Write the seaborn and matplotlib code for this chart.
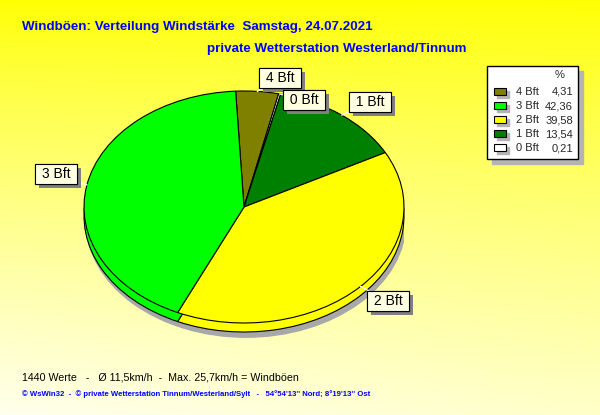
import matplotlib
matplotlib.use("Agg")
import matplotlib.pyplot as plt
import matplotlib.patheffects as pe
from matplotlib.patches import Rectangle, Ellipse
import numpy as np
import seaborn as sns

# data
categories = ["4 Bft", "3 Bft", "2 Bft", "1 Bft", "0 Bft"]
percent = [4.31, 42.36, 39.58, 13.54, 0.21]
colors = ["#808000", "#00ff00", "#ffff00", "#008000", "#ffffff"]
pie_order = ["4 Bft", "0 Bft", "1 Bft", "2 Bft", "3 Bft"]  # clockwise from the top

n_values = 1440
mean_gust = 11.5
max_gust = 25.7

title = "Windböen: Verteilung Windstärke  Samstag, 24.07.2021"
subtitle = "private Wetterstation Westerland/Tinnum"
footer = ("© WsWin32  -  © private Wetterstation Tinnum/Westerland/Sylt   -   "
          "54°54'13'' Nord; 8°19'13'' Ost")


def de(v, fmt="{:.2f}"):
    return fmt.format(v).replace(".", ",")


sns.set_theme(style="white")
plt.rcParams["font.family"] = ["Liberation Sans", "DejaVu Sans"]

W, H = 600, 415
fig = plt.figure(figsize=(6, 4.15), dpi=100)

# background gradient (yellow at top, pale at bottom)
bg = fig.add_axes([0, 0, 1, 1])
yy, xx = np.mgrid[0:H, 0:W]
t = yy / H
s = xx / W
blue = np.clip(t ** 0.8 * (0.85 + 0.15 * (1 - s)), 0, 1) * 0.93
img = np.dstack([np.ones_like(blue), np.ones_like(blue), blue])
bg.imshow(img, extent=(0, W, H, 0), aspect="auto", zorder=0)
bg.set_xlim(0, W)
bg.set_ylim(H, 0)
bg.axis("off")

# pie axes: elliptical pie with a small rim
left, top, rx, ry, depth = 84, 91, 160, 116, 9
ylo = -1 - (depth + 18) / ry
hpx = ry * (1 - ylo)
pax = fig.add_axes([left / W, (H - (top + hpx)) / H, 2 * rx / W, hpx / H])
pax.patch.set_visible(False)

vals = [percent[categories.index(c)] for c in pie_order]
cols = [colors[categories.index(c)] for c in pie_order]
dz = depth / ry
wp = dict(edgecolor="black", linewidth=0.8)

pax.add_patch(Ellipse((0.012, -dz - 0.045), 2, 2, color="#a8a8a8", zorder=0))
pax.pie(vals, colors=cols, startangle=93, counterclock=False,
        center=(0, -dz), radius=1, wedgeprops=wp, frame=False)
wedges, _ = pax.pie(vals, colors=cols, startangle=93, counterclock=False,
                    center=(0, 0), radius=1, wedgeprops=wp, frame=False)
pax.set_aspect("auto")
pax.set_xlim(-1, 1)
pax.set_ylim(ylo, 1)
pax.axis("off")

# label boxes (pixel centres) and optional anchor angle override
label_pos = {"4 Bft": (280, 78), "0 Bft": (304, 100), "1 Bft": (370, 102),
             "3 Bft": (56, 174), "2 Bft": (388, 301)}
anchor_angle = {"3 Bft": 169}

for w, cat in zip(wedges, pie_order):
    ang = anchor_angle.get(cat, (w.theta1 + w.theta2) / 2)
    a = np.deg2rad(ang)
    ann = pax.annotate(
        f" {cat} ", xy=(np.cos(a), np.sin(a)), xycoords="data",
        xytext=label_pos[cat], textcoords=bg.transData,
        ha="center", va="center", fontsize=10, color="black",
        bbox=dict(boxstyle="square,pad=0.2", fc="#ffffe1", ec="black", lw=0.8),
        arrowprops=dict(arrowstyle="-", color="white", lw=1,
                        shrinkA=0, shrinkB=0),
        annotation_clip=False, zorder=5)
    ann.get_bbox_patch().set_path_effects(
        [pe.withSimplePatchShadow(offset=(3, -3), shadow_rgbFace="#808080", alpha=1),
         pe.Normal()])

# legend box
lx0, ly0, lx1, ly1 = 487, 66, 578, 159
bg.add_patch(Rectangle((lx0 + 5, ly0 + 5), lx1 - lx0, ly1 - ly0,
                       color="#b4b4b4", zorder=2))
bg.add_patch(Rectangle((lx0, ly0), lx1 - lx0, ly1 - ly0,
                       fc="white", ec="black", lw=1, zorder=3))
bg.text(560, 75, "%", ha="center", va="center", fontsize=8, zorder=4)
for i, (cat, val, col) in enumerate(zip(categories, percent, colors)):
    y = 92 + i * 14
    bg.add_patch(Rectangle((497, y - 1), 12, 7, color="#b4b4b4", zorder=3))
    bg.add_patch(Rectangle((494, y - 4), 12, 7, fc=col, ec="black", lw=0.8, zorder=4))
    bg.text(516, y, cat, ha="left", va="center", fontsize=8, zorder=4)
    bg.text(573, y, de(val), ha="right", va="center", fontsize=8, zorder=4)

# titles
bg.text(22, 27, title, color="#0000ff", fontsize=9.6, fontweight="bold",
        va="center", ha="left", zorder=4)
bg.text(207, 49, subtitle, color="#0000ff", fontsize=9.6, fontweight="bold",
        va="center", ha="left", zorder=4)

stats = (f"{n_values} Werte   -   Ø {de(mean_gust, '{:.1f}')}km/h  -  "
         f"Max. {de(max_gust, '{:.1f}')}km/h = Windböen")
bg.text(22, 377, stats, color="black", fontsize=7.65, va="center", ha="left", zorder=4)
bg.text(22, 394, footer, color="#0000ff", fontsize=5.6, fontweight="bold",
        va="center", ha="left", zorder=4)

fig.savefig("out.png", dpi=100)
